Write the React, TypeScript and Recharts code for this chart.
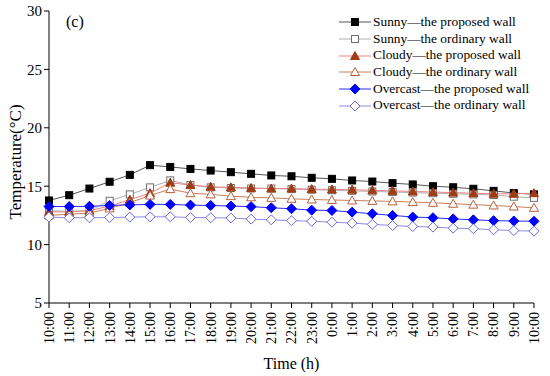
import React from 'react'
import { LineChart, Line, XAxis, YAxis, Customized } from 'recharts'

const times = ['10:00', '11:00', '12:00', '13:00', '14:00', '15:00', '16:00', '17:00', '18:00', '19:00', '20:00', '21:00', '22:00', '23:00', '0:00', '1:00', '2:00', '3:00', '4:00', '5:00', '6:00', '7:00', '8:00', '9:00', '10:00']

const sunnyProposed = [13.78, 14.23, 14.8, 15.38, 15.97, 16.8, 16.65, 16.48, 16.34, 16.2, 16.06, 15.92, 15.85, 15.72, 15.63, 15.49, 15.4, 15.26, 15.15, 15.0, 14.91, 14.78, 14.6, 14.42, 14.3]
const sunnyOrdinary = [12.9, 12.85, 12.9, 13.75, 14.3, 14.9, 15.5, 15.1, 14.9, 14.85, 14.8, 14.8, 14.75, 14.7, 14.65, 14.6, 14.55, 14.5, 14.45, 14.4, 14.35, 14.3, 14.25, 14.1, 14.0]
const cloudyProposed = [12.8, 12.8, 12.9, 13.3, 13.85, 14.4, 15.3, 15.1, 14.95, 14.9, 14.85, 14.8, 14.8, 14.75, 14.72, 14.7, 14.65, 14.6, 14.55, 14.5, 14.45, 14.4, 14.35, 14.35, 14.4]
const cloudyOrdinary = [12.5, 12.6, 12.7, 13.1, 13.6, 14.2, 14.75, 14.4, 14.3, 14.15, 14.05, 14.0, 13.92, 13.86, 13.82, 13.78, 13.74, 13.7, 13.64, 13.58, 13.5, 13.42, 13.35, 13.26, 13.15]
const overcastProposed = [13.26, 13.26, 13.28, 13.35, 13.4, 13.44, 13.44, 13.38, 13.35, 13.3, 13.25, 13.15, 13.07, 12.95, 12.92, 12.78, 12.64, 12.5, 12.36, 12.3, 12.2, 12.12, 12.05, 12.02, 12.0]
const overcastOrdinary = [12.35, 12.3, 12.3, 12.32, 12.35, 12.38, 12.38, 12.32, 12.3, 12.28, 12.18, 12.12, 12.05, 12.0, 11.92, 11.84, 11.73, 11.64, 11.55, 11.5, 11.41, 11.36, 11.27, 11.2, 11.15]

const yTicks = [5, 10, 15, 20, 25, 30]

const FONT = '"Liberation Serif", "Times New Roman", serif'

type MarkerKind = 'square' | 'triangle' | 'diamond'

interface SeriesDef {
  key: string
  name: string
  line: string
  stroke: string
  fill: string
  kind: MarkerKind
}

const series: SeriesDef[] = [
  { key: 'sp', name: 'Sunny\u2014the proposed wall', line: '#555555', stroke: '#000000', fill: '#000000', kind: 'square' },
  { key: 'so', name: 'Sunny\u2014the ordinary wall', line: '#b0b0b0', stroke: '#707070', fill: '#ffffff', kind: 'square' },
  { key: 'cp', name: 'Cloudy\u2014the proposed wall', line: '#f08080', stroke: '#a03c14', fill: '#a03c14', kind: 'triangle' },
  { key: 'co', name: 'Cloudy\u2014the ordinary wall', line: '#c8805a', stroke: '#b8603a', fill: '#ffffff', kind: 'triangle' },
  { key: 'op', name: 'Overcast\u2014the proposed wall', line: '#2a2aff', stroke: '#0000ff', fill: '#0000ff', kind: 'diamond' },
  { key: 'oo', name: 'Overcast\u2014the ordinary wall', line: '#8c8ce6', stroke: '#6a6ae0', fill: '#ffffff', kind: 'diamond' },
]

const values: Record<string, number[]> = {
  sp: sunnyProposed,
  so: sunnyOrdinary,
  cp: cloudyProposed,
  co: cloudyOrdinary,
  op: overcastProposed,
  oo: overcastOrdinary,
}

const data = times.map((t, i) => {
  const row: { [k: string]: number | string } = { i, t }
  series.forEach((s) => {
    row[s.key] = values[s.key][i]
  })
  return row
})

function Marker({ cx, cy, kind, fill, stroke }: { cx: number; cy: number; kind: MarkerKind; fill: string; stroke: string }) {
  if (kind === 'square') {
    return <rect x={cx - 3.5} y={cy - 3.5} width={7} height={7} fill={fill} stroke={stroke} strokeWidth={1} />
  }
  if (kind === 'triangle') {
    return (
      <polygon
        points={`${cx},${cy - 4.5} ${cx + 4.5},${cy + 3.5} ${cx - 4.5},${cy + 3.5}`}
        fill={fill}
        stroke={stroke}
        strokeWidth={1}
      />
    )
  }
  return (
    <polygon
      points={`${cx},${cy - 5} ${cx + 5},${cy} ${cx},${cy + 5} ${cx - 5},${cy}`}
      fill={fill}
      stroke={stroke}
      strokeWidth={1}
    />
  )
}

const XTick = (props: any) => {
  const { x, y, payload } = props
  return (
    <g transform={`translate(${x},${y})`}>
      <text
        transform="rotate(-90)"
        x={-2}
        y={0}
        dy="0.35em"
        textAnchor="end"
        fontFamily={FONT}
        fontSize={14}
        fill="#000"
      >
        {times[payload.value]}
      </text>
    </g>
  )
}

const LegendBox = () => (
  <div
    style={{
      position: 'absolute',
      left: 338,
      top: 14,
      fontFamily: FONT,
      fontSize: 13.4,
      color: '#000',
      lineHeight: '16.7px',
      whiteSpace: 'nowrap',
    }}
  >
    {series.map((s) => (
      <div key={s.key} style={{ display: 'flex', alignItems: 'center', height: 16.7 }}>
        <svg width={34} height={14} style={{ marginRight: 1 }}>
          <line x1={1} y1={7} x2={33} y2={7} stroke={s.line} strokeWidth={1} />
          <Marker cx={17} cy={7} kind={s.kind} fill={s.fill} stroke={s.stroke} />
        </svg>
        <span>{s.name}</span>
      </div>
    ))}
  </div>
)

const YLabel = () => (
  <text
    x={15}
    y={162}
    transform="rotate(-90 15 162)"
    textAnchor="middle"
    dominantBaseline="central"
    fontFamily={FONT}
    fontSize={17}
    fill="#000"
  >
    Temperature(°C)
  </text>
)

export default function App() {
  return (
    <div style={{ position: 'absolute', left: 0, top: 0, width: 550, height: 376, background: '#fff' }}>
      <LineChart width={550} height={376} data={data} margin={{ top: 11, right: 16, bottom: 3, left: 0 }}>
        <XAxis
          dataKey="i"
          type="number"
          domain={[0, 24]}
          ticks={times.map((_, i) => i)}
          interval={0}
          tick={<XTick />}
          tickSize={5}
          stroke="#000"
          height={70}
          label={{ value: 'Time (h)', position: 'insideBottom', offset: 4, fontFamily: FONT, fontSize: 16, fill: '#000' }}
        />
        <YAxis
          domain={[5, 30]}
          ticks={yTicks}
          interval={0}
          width={49}
          tickSize={5}
          stroke="#000"
          tick={{ fontFamily: FONT, fontSize: 15, fill: '#000' }}
        />
        {series.map((s) => (
          <Line
            key={s.key}
            dataKey={s.key}
            name={s.name}
            stroke={s.line}
            strokeWidth={1}
            isAnimationActive={false}
            dot={(p: any) => <Marker key={`${s.key}-${p.index}`} cx={p.cx} cy={p.cy} kind={s.kind} fill={s.fill} stroke={s.stroke} />}
            activeDot={false}
          />
        ))}
        <Customized component={YLabel} />
        <Customized component={() => <text x={66} y={27} fontFamily={FONT} fontSize={16} fill="#000">(c)</text>} />
      </LineChart>
      <LegendBox />
    </div>
  )
}
